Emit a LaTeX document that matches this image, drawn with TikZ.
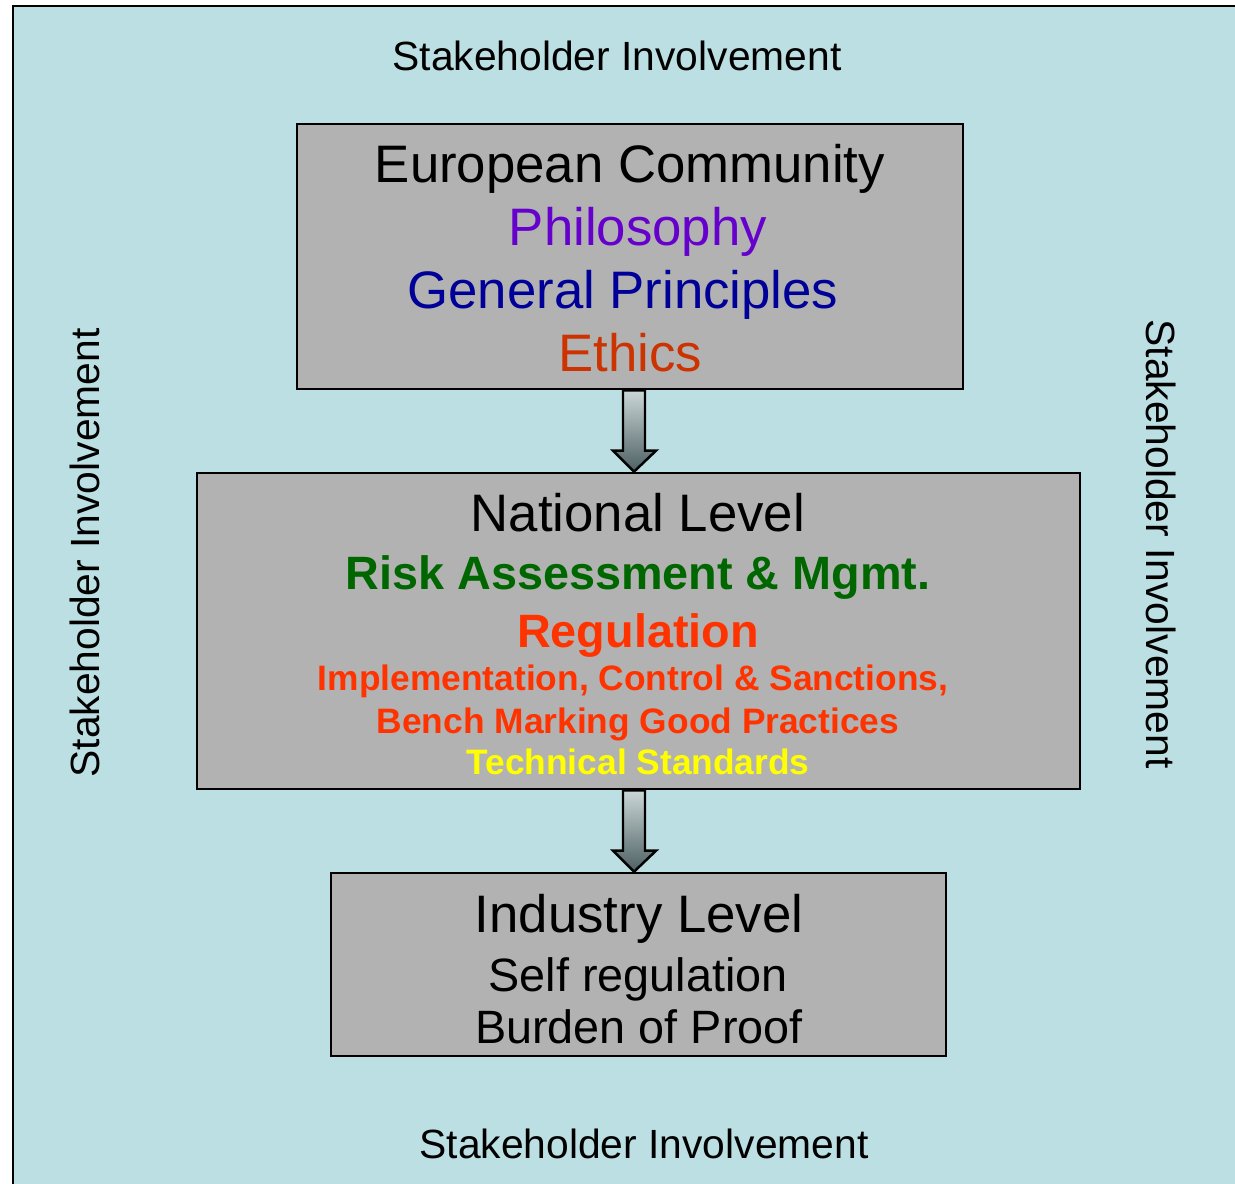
\documentclass[tikz,border=0pt]{standalone}
\usepackage{fontspec}
\setmainfont{Liberation Sans}
\usetikzlibrary{calc}
\definecolor{bgblue}{HTML}{BBDFE2}
\definecolor{boxgray}{HTML}{B2B2B2}
\definecolor{philo}{HTML}{6600CC}
\definecolor{princ}{HTML}{000099}
\definecolor{ethic}{HTML}{CC3300}
\definecolor{riskgreen}{HTML}{006600}
\definecolor{regred}{HTML}{FF3300}
\definecolor{stdyellow}{HTML}{FFFF00}
\definecolor{arrowtop}{HTML}{CBD7D7}
\definecolor{arrowbot}{HTML}{4D6063}
\tikzset{
	levelbox/.style={draw=black, fill=boxgray, line width=0.7pt, inner sep=0pt},
	txtbig/.style={inner sep=0pt, anchor=base, font=\fontsize{15}{18}\selectfont},
	txtmid/.style={inner sep=0pt, anchor=base, font=\fontsize{13.3}{16}\selectfont},
	txtbold/.style={inner sep=0pt, anchor=base, font=\fontsize{13.3}{16}\selectfont\bfseries},
	txtsmall/.style={inner sep=0pt, anchor=base, font=\fontsize{10.05}{12}\selectfont\bfseries},
	txtside/.style={inner sep=0pt, anchor=base, font=\fontsize{11.6}{14}\selectfont},
	arrowbody/.style={draw=black, line width=0.7pt, top color=arrowtop, bottom color=arrowbot}
}
% block arrow on the vertical line #1, from node #2 down to node #3
\def\levelarrow#1#2#3{\shade[arrowbody] ($(#1 |- #2.south)+(-11,0)$) -- ($(#1 |- #3.north)+(-11,-21)$) -- ($(#1 |- #3.north)+(-21,-21)$) -- (#1 |- #3.north) -- ($(#1 |- #3.north)+(22,-21)$) -- ($(#1 |- #3.north)+(11,-21)$) -- ($(#1 |- #2.south)+(11,0)$) -- cycle;}
\begin{document}
\begin{tikzpicture}[x=0.01cm, y=-0.01cm]
	\useasboundingbox (0,0) rectangle (1235,1184);
	%%%%% background %%%%%
	\fill[bgblue] (13,6) rectangle (1235,1184);
	\draw[line width=0.7pt] (13,1184) -- (13,6) -- (1235,6);
	
	\node[txtside] (sttop) at (617,70) {Stakeholder Involvement};
	\node[txtside] (stbottom) at (644,1158) {Stakeholder Involvement};
	\node[txtside, rotate=90] (stleft) at (100,553) {Stakeholder Involvement};
	\node[txtside, rotate=-90] (stright) at (1146,544) {Stakeholder Involvement};
	
	%%%%% boxes %%%%%
	\node[levelbox, minimum width=6.66cm, minimum height=2.65cm] (ec) at (630,256.5) {};
	\node[levelbox, minimum width=8.83cm, minimum height=3.16cm] (nat) at (638.5,631) {};
	\node[levelbox, minimum width=6.15cm, minimum height=1.83cm] (ind) at (638.5,964.5) {};
	
	\coordinate (axis) at (634,0);
	\levelarrow{axis}{ec}{nat}
	\levelarrow{axis}{nat}{ind}
	
	%%%%% European Community %%%%%
	\node[txtbig] (ecname) at (630,182) {European Community};
	\node[txtbig, text=philo] (philosophy) at (638,245) {Philosophy};
	\node[txtbig, text=princ] (principles) at (623,308) {General Principles};
	\node[txtbig, text=ethic] (ethics) at (630,371) {Ethics};
	
	%%%%% National Level %%%%%
	\node[txtbig] (natname) at (638,531) {National Level};
	\node[txtbold, text=riskgreen] (risk) at (638,589) {Risk Assessment \& Mgmt.};
	\node[txtbold, text=regred] (regulation) at (638,647) {Regulation};
	\node[txtsmall, text=regred] (implement) at (633,690) {Implementation, Control \& Sanctions,};
	\node[txtsmall, text=regred] (bench) at (638,733) {Bench Marking Good Practices};
	\node[txtsmall, text=stdyellow] (standards) at (638,774) {Technical Standards};
	
	%%%%% Industry Level %%%%%
	\node[txtbig] (indname) at (639,932) {Industry Level};
	\node[txtmid] (selfreg) at (638,991) {Self regulation};
	\node[txtmid] (burden) at (639,1043) {Burden of Proof};
\end{tikzpicture}
\end{document}
